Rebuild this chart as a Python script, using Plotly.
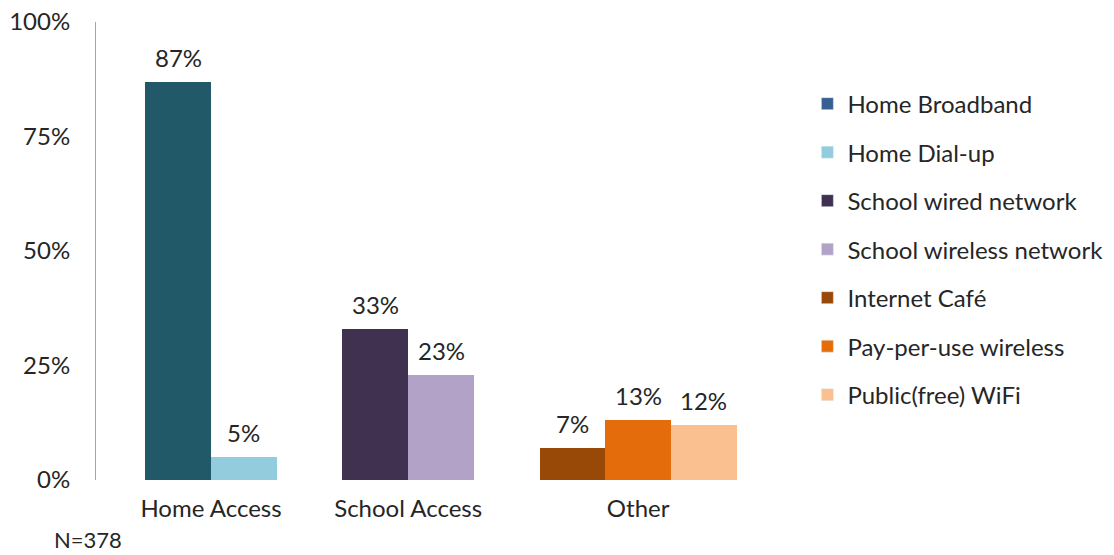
import plotly.graph_objects as go

# Survey data: share of respondents using each type of connection
categories = ["Home Access", "School Access", "Other"]
series_names = [
    "Home Broadband",
    "Home Dial-up",
    "School wired network",
    "School wireless network",
    "Internet Café",
    "Pay-per-use wireless",
    "Public(free) WiFi",
]
series_category = [0, 0, 1, 1, 2, 2, 2]
series_values = [0.87, 0.05, 0.33, 0.23, 0.07, 0.13, 0.12]
value_labels = ["87%", "5%", "33%", "23%", "7%", "13%", "12%"]
sample_note = "N=378"

bar_colors = ["#215968", "#93CDDD", "#403151", "#B3A2C7", "#984807", "#E46C0A", "#FAC090"]
legend_colors = ["#376092", "#93CDDD", "#403151", "#B3A2C7", "#984807", "#E46C0A", "#FAC090"]

FONT = "Lato"
TEXT = "#262626"
FS = 24

# Bars are laid out in slots of unit width; each category block occupies 3 slots
group_start = {0: 0.75, 1: 3.75, 2: 6.75}
positions = []
within = {}
for cat in series_category:
    k = within.get(cat, 0)
    positions.append(group_start[cat] + k + 0.5)
    within[cat] = k + 1
group_centers = []
for cat in range(len(categories)):
    n = within[cat]
    group_centers.append(group_start[cat] + n / 2)

fig = go.Figure()
for i, name in enumerate(series_names):
    fig.add_trace(go.Bar(
        x=[positions[i]], y=[series_values[i]], width=1.0,
        marker=dict(color=bar_colors[i], line=dict(width=0)),
        name=name, showlegend=False, legendgroup=f"g{i}",
        hoverinfo="skip",
    ))
    # legend entry
    fig.add_trace(go.Bar(
        x=[None], y=[None], marker=dict(color=legend_colors[i]),
        name=name, legendgroup=f"g{i}", showlegend=True,
    ))
    fig.add_annotation(
        x=positions[i], y=series_values[i], text=value_labels[i],
        showarrow=False, yanchor="bottom", yshift=8,
        font=dict(family=FONT, size=FS, color=TEXT),
    )

fig.add_annotation(
    x=-0.062, y=-0.131, xref="paper", yref="paper", text=sample_note,
    showarrow=False, xanchor="left", yanchor="middle", borderpad=0,
    font=dict(family=FONT, size=22, color=TEXT),
)

fig.update_layout(
    width=1114, height=555,
    margin=dict(l=96, r=328, t=22, b=75, autoexpand=False),
    paper_bgcolor="white", plot_bgcolor="white",
    barmode="overlay", bargap=0,
    font=dict(family=FONT, size=FS, color=TEXT),
    legend=dict(
        x=1.031, y=0.870, xanchor="left", yanchor="top",
        font=dict(family=FONT, size=FS, color=TEXT),
        tracegroupgap=14.3, itemwidth=30,
    ),
    xaxis=dict(
        range=[0, 10.5], tickvals=group_centers, ticktext=categories,
        showline=False, showgrid=False, zeroline=False, ticks="",
        ticklabelstandoff=12, fixedrange=True,
    ),
    yaxis=dict(
        range=[0, 1], tickvals=[0, 0.25, 0.5, 0.75, 1.0], tickformat=".0%",
        showline=True, linecolor="#A6A6A6", linewidth=1,
        showgrid=False, zeroline=False, ticks="",
        ticklabelstandoff=20, fixedrange=True,
    ),
)

fig.write_html("out.html")
